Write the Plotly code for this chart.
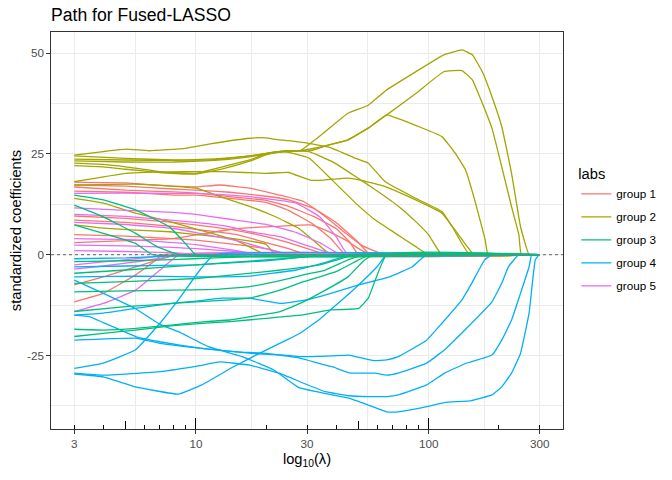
"""
Fused-LASSO coefficient paths, one line per coefficient, coloured by group.
"""

import plotly.graph_objects as go

# ggplot2 default hue palette for five groups
GROUP_COLORS = {
    'group 1': '#F8766D',
    'group 2': '#A3A500',
    'group 3': '#00BF7D',
    'group 4': '#00B0F6',
    'group 5': '#E76BF3',
}

LAMBDA_MAX = 300

# each path: (lambda, standardized coefficient)
GROUP1_PATHS = [
    [(3, 18.0), (5, 17.8), (8, 17.0), (10, 16.8), (12.6, 17.3), (17, 16.5), (22.8, 14.8), (29, 13.2), (36, 9.4), (44, 5.3), (51, 2.5), (58, 1.0), (65, 0)],
    [(3, 17.3), (5, 17.0), (8, 16.3), (10, 16.0), (14, 15.5), (20, 14.5), (25, 13.6), (32, 11.5), (40, 8.0), (50, 3.0), (56, 0)],
    [(3, 16.8), (5, 16.0), (8, 15.6), (10, 15.3), (14, 14.4), (20, 13.5), (25, 12.0), (32, 9.5), (40, 6.5), (46, 3.0), (50, 0)],
    [(3, 15.8), (5, 15.5), (8, 14.8), (10, 14.8), (14, 14.0), (20, 13.0), (25, 11.0), (32, 7.5), (38, 4.0), (44, 0)],
    [(3, 3.0), (5, 3.5), (8, 4.0), (10, 4.9), (15, 6.5), (20, 6.9), (31, 7.4), (36, 6.1), (44, 3.6), (51, 1.2), (57, 0)],
    [(3, 9.6), (5, 9.0), (8, 8.0), (10, 7.4), (15, 6.0), (20, 4.5), (25, 3.0), (32, 1.0), (36, 0)],
    [(3, 8.6), (5, 8.0), (8, 7.0), (10, 6.3), (15, 5.0), (20, 3.0), (25, 1.5), (30, 0)],
    [(3, 5.0), (5, 4.6), (8, 4.0), (10, 3.6), (15, 2.5), (20, 1.5), (26, 0)],
    [(3, -7.5), (4, -5.5), (5.5, -3.0), (7.7, -0.5), (8.5, 0)],
    [(3, -11.7), (4, -9.6), (5.5, -5.0), (6.5, -2.0), (7.2, 0)],
]

GROUP2_PATHS = [
    [(3, 24.5), (5, 23.9), (8, 23.5), (12, 23.6), (17, 24.5), (22, 25.5), (28, 25.8), (35, 30.0), (45, 35.1), (55, 37.1), (66, 40.9), (88, 45.4), (116, 49.6), (139, 50.8), (154, 49.6), (170, 45.4), (187, 39.2), (206, 31.8), (227, 20.2), (248, 7.0), (270, 0)],
    [(3, 23.7), (5, 23.5), (8, 23.4), (12, 23.8), (17, 24.5), (22, 25.5), (28, 25.8), (31, 25.8), (37, 27.2), (45, 28.5), (55, 31.4), (66, 34.7), (88, 40.0), (116, 45.4), (139, 45.7), (154, 43.4), (170, 37.6), (187, 31.4), (206, 21.8), (227, 11.9), (244, 5.0), (250, 0)],
    [(3, 23.3), (5, 23.0), (8, 23.0), (12, 23.4), (17, 24.3), (22, 25.4), (28, 25.8), (37, 27.2), (45, 28.5), (55, 31.4), (66, 34.7), (77, 33.4), (114, 29.3), (130, 25.2), (144, 21.0), (159, 12.8), (175, 3.6), (180, 0)],
    [(3, 22.7), (4, 22.4), (5, 21.8), (7, 20.6), (10, 20.2), (13, 21.8), (17, 23.5), (20, 25.0), (24, 25.8), (30.6, 25.6), (38.5, 23.1), (48.5, 19.4), (59, 16.1), (74.5, 11.9), (88, 8.2), (100, 4.9), (114, 0)],
    [(3, 22.1), (4, 21.8), (5, 21.2), (7, 20.4), (10, 20.0), (13, 21.3), (17, 23.2), (20, 24.8), (24, 25.6), (30.6, 24.0), (38.5, 18.5), (48.5, 12.8), (59, 8.6), (72, 5.3), (88, 2.0), (100, 0)],
    [(3, 24.7), (4, 25.6), (5, 26.2), (6.3, 25.8), (9, 26.4), (11.5, 27.5), (17, 28.9), (20, 29.0), (22, 28.6), (25, 28.3), (30.6, 27.6), (38.5, 26.4), (48.5, 23.9), (55, 22.7), (65, 18.1), (88, 14.0), (114, 10.7), (126, 7.0), (150, 0)],
    [(3, 18.1), (5, 20.2), (9, 20.6), (13, 20.6), (20, 20.2), (25, 20.4), (31, 18.5), (35, 18.5), (45, 19.0), (52, 18.4), (65, 16.9), (82, 14.4), (114, 10.3), (130, 6.1), (157, 0)],
    [(3, 17.3), (5.5, 17.5), (10, 16.5), (12.6, 14.5), (17, 12.0), (21.6, 9.6), (27.7, 6.5), (32, 3.5), (38, 0)],
    [(3, 14.0), (4, 12.8), (5.5, 10.3), (7.7, 8.2), (10.4, 6.1), (14.8, 3.6), (18, 1.2), (20, 0)],
    [(3, 7.4), (4, 6.6), (5.5, 6.1), (7.7, 5.7), (10.4, 4.9), (14.8, 3.9), (20, 2.6), (22, 0)],
]

GROUP3_PATHS = [
    [(3, 14.8), (4, 13.6), (5.5, 11.1), (7.7, 6.9), (9, 2.8), (10, 0)],
    [(3, 12.3), (4, 9.4), (5.5, 5.3), (6.8, 2.0), (8.5, 0)],
    [(3, 7.4), (4, 5.3), (5.5, 2.8), (6.5, 0)],
    [(3, -1.7), (5, -1.5), (8, -1.2), (12, -0.8), (17, -0.5), (22, 0)],
    [(3, -4.6), (5, -3.8), (10, -2.5), (20, -1.3), (30, -0.5), (36, 0)],
    [(3, -7.1), (5, -6.7), (10, -5.9), (20, -4.2), (34, -2.5), (42, -1.0), (48, 0)],
    [(3, -9.2), (5, -9.0), (8, -8.8), (12, -8.6), (17, -7.9), (22, -6.7), (29, -5.0), (36, -3.8), (45, -1.3), (53, 0)],
    [(3, -14.1), (5, -12.9), (8, -12.1), (10, -11.7), (14, -11.2), (17, -10.8), (23, -8.8), (29, -6.7), (40, -4.2), (50, -1.3), (56, 0)],
    [(3, -18.5), (4, -18.7), (5.5, -18.3), (8, -17.4), (11, -16.6), (14, -16.2), (17, -15.4), (23, -14.1), (28, -12.1), (36, -8.8), (45, -5.5), (53, -1.3), (58, 0)],
    [(3, -20.3), (4, -19.5), (5.5, -18.7), (8, -17.6), (11, -17.0), (14, -16.6), (20, -15.8), (28, -15.0), (38, -13.7), (50, -13.3), (55, -10.8), (66, 0)],
]

GROUP4_PATHS = [
    [(3, -6.3), (4, -9.6), (5.5, -13.4), (7, -17.3), (8.4, -19.1), (11.3, -22.8), (15.8, -25.3), (21.6, -28.6), (27.7, -33.0), (33, -34.0), (38.5, -34.8), (45.4, -35.6), (55, -37.3), (66, -39.0), (74, -39.0), (98, -37.7), (117, -36.7), (153, -36.2), (187, -34.8), (206, -32.8), (227, -29.4), (248, -24.5), (270, -14.5), (287, -1.3), (298, 0)],
    [(3, -5.5), (5.5, -5.3), (10, -5.5), (17, -5.3), (27, -3.8), (35, -2.1), (47, 0)],
    [(3, -28.2), (4, -26.9), (5.5, -23.6), (7, -17.0), (8.4, -11.2), (10.4, -3.8), (12, 0)],
    [(3, -15.0), (3.5, -15.4), (5.5, -20.3), (7, -21.6), (10.4, -23.2), (15, -24.1), (20, -24.5), (27.7, -25.6), (34, -27.0), (38.5, -27.8), (45.4, -29.3), (59, -29.4), (66, -29.9), (74, -29.4), (98, -26.9), (117, -23.6), (143, -18.7), (187, -11.7), (206, -7.1), (220, -3.0), (244, 0)],
    [(3, -21.2), (5.5, -20.7), (7, -22.0), (10.4, -23.2), (17.4, -24.5), (24, -24.9), (28, -25.3), (38.5, -25.1), (45.4, -24.9), (58, -26.3), (66, -26.1), (74, -25.3), (98, -21.2), (114, -17.0), (139, -11.2), (153, -7.1), (174, -1.3), (187, 0)],
    [(3, -29.4), (4, -29.9), (7, -29.0), (10.4, -27.5), (12.6, -26.6), (17, -27.4), (22.8, -29.4), (29, -31.9), (36, -34.0), (45.4, -35.0), (55, -35.2), (66, -35.2), (74, -34.8), (98, -32.3), (117, -29.4), (144, -27.0), (187, -24.9), (206, -21.2), (227, -16.2), (248, -9.6), (270, -3.0), (277, 0)],
    [(3, -29.6), (4, -30.3), (5.5, -32.8), (8.4, -34.6), (10.6, -32.3), (14.5, -27.8), (18, -25.0), (22, -22.5), (28, -19.5), (34, -16.0), (40, -12.5), (50, -7.5), (60, -3.0), (66, 0)],
    [(3, -15.0), (4, -14.5), (6, -13.0), (8, -12.0), (10, -11.5), (13, -10.8), (17, -10.8), (23, -12.1), (30, -11.2), (38, -9.6), (50, -7.5), (68, -5.5), (85, -3.0), (98, 0)],
    [(3, -3.0), (5, -2.8), (10, -2.5), (20, -1.5), (30, -0.5), (35, 0)],
    [(3, -1.0), (5, -0.8), (8, -0.3), (10, 0)],
]

GROUP5_PATHS = [
    [(3, 15.2), (5, 15.3), (8, 15.2), (10, 15.2), (14, 14.8), (17, 14.4), (22, 13.6), (27, 12.8), (34, 9.4), (40, 4.5), (45, 0)],
    [(3, 11.6), (5, 11.0), (8, 10.5), (10, 10.0), (14, 8.8), (20, 7.5), (27, 5.5), (34, 3.0), (42, 0)],
    [(3, 10.0), (5, 9.5), (8, 8.5), (10, 8.0), (14, 6.9), (17, 5.7), (23, 4.5), (31, 2.0), (40, 0)],
    [(3, 8.0), (5, 7.5), (8, 6.5), (10, 5.5), (15, 3.5), (20, 1.5), (25, 0)],
    [(3, 4.0), (5, 3.8), (8, 3.0), (10, 2.5), (15, 1.0), (18, 0)],
    [(3, 1.0), (5, 0.8), (8, 0.5), (10, 0)],
    [(3, -2.5), (4, -1.8), (6, -0.8), (8, 0)],
    [(3, -3.6), (4, -2.8), (6, -1.5), (8, -0.3), (9, 0)],
    [(3, -14.1), (4, -12.1), (5.5, -8.8), (7, -3.8), (8.5, 0)],
    [(3, 2.4), (5, 2.2), (8, 1.8), (10, 1.5), (15, 0.8), (20, 0)],
]

# drawing order (later groups end up on top)
DRAW_ORDER = [
    ('group 1', GROUP1_PATHS),
    ('group 2', GROUP2_PATHS),
    ('group 5', GROUP5_PATHS),
    ('group 4', GROUP4_PATHS),
    ('group 3', GROUP3_PATHS),
]

X_TICKS = [3, 10, 30, 100, 300]
X_MINOR_GRID = [5.477, 17.32, 54.77, 173.2]
Y_TICKS = [-25, 0, 25, 50]
Y_TICK_LABELS = ['-25', '0', '25', '50']
Y_MINOR_GRID = [-37.5, -12.5, 12.5, 37.5]

# annotation_logticks style marks along the bottom
LOGTICK_LONG = [10, 100]
LOGTICK_MID = [5, 50]
LOGTICK_SHORT = [3, 4, 6, 7, 8, 9, 20, 30, 40, 60, 70, 80, 90, 200, 300]

FONT = 'Liberation Sans, Arial, sans-serif'
GRID = '#EBEBEB'
BORDER = '#333333'

fig = go.Figure()

for group, paths in DRAW_ORDER:
    rank = int(group.split()[-1])
    for i, path in enumerate(paths):
        lam = [p[0] for p in path]
        coef = [p[1] for p in path]
        # once a coefficient is shrunk to zero it stays there
        if lam[-1] < LAMBDA_MAX:
            lam.append(LAMBDA_MAX)
            coef.append(0)
        fig.add_trace(go.Scatter(
            x=lam, y=coef, mode='lines',
            line=dict(color=GROUP_COLORS[group], width=1.3, shape='spline', smoothing=0.3),
            name=group, legendgroup=group, legendrank=rank,
            showlegend=(i == 0),
            hoverinfo='skip',
        ))

# empty traces so the overlay axes carrying the log ticks get drawn
fig.add_trace(go.Scatter(x=[], y=[], xaxis='x2', showlegend=False))
fig.add_trace(go.Scatter(x=[], y=[], xaxis='x3', showlegend=False))

fig.add_hline(y=0, line=dict(color='#7F7F7F', dash='dot', width=1.2))

x_range = [0.3771, 2.5771]
logtick_axis = dict(
    type='log', range=x_range, overlaying='x', anchor='y', side='bottom',
    showgrid=False, showline=False, zeroline=False, showticklabels=False,
    ticks='inside', tickcolor='black', tickwidth=1, automargin=False,
)

# the page body adds an 8px offset, so the figure is 8px smaller on each axis
fig.update_layout(
    width=664, height=472,
    margin=dict(l=43, r=109, t=24, b=51, autoexpand=False),
    paper_bgcolor='white', plot_bgcolor='white',
    font=dict(family=FONT, color='black'),
    title=dict(
        text='Path for Fused-LASSO', x=0, xref='paper', xanchor='left',
        y=0.999, yref='container', yanchor='top',
        font=dict(size=17.6, color='black'),
    ),
    xaxis=dict(
        type='log', range=x_range, automargin=False,
        tickmode='array', tickvals=X_TICKS, ticktext=[str(v) for v in X_TICKS],
        ticks='outside', ticklen=3.7, tickwidth=1, tickcolor=BORDER,
        tickfont=dict(size=11.7, color='#4D4D4D'),
        showgrid=True, gridcolor=GRID, gridwidth=1.07,
        minor=dict(tickmode='array', tickvals=X_MINOR_GRID, showgrid=True,
                   gridcolor=GRID, gridwidth=0.55, ticks=''),
        showline=True, mirror=True, linecolor=BORDER, linewidth=1,
        zeroline=False,
        title=dict(text='log<sub>10</sub>(λ)', font=dict(size=14.7), standoff=4),
    ),
    xaxis2=dict(logtick_axis, tickmode='array', tickvals=LOGTICK_LONG, ticklen=11.3,
                minor=dict(tickmode='array', tickvals=LOGTICK_SHORT, ticks='inside',
                           ticklen=3.8, tickcolor='black', tickwidth=1, showgrid=False)),
    xaxis3=dict(logtick_axis, tickmode='array', tickvals=LOGTICK_MID, ticklen=7.6),
    yaxis=dict(
        range=[-43.25, 55.26], automargin=False,
        tickmode='array', tickvals=Y_TICKS, ticktext=Y_TICK_LABELS,
        ticks='outside', ticklen=3.7, tickwidth=1, tickcolor=BORDER,
        tickfont=dict(size=11.7, color='#4D4D4D'),
        showgrid=True, gridcolor=GRID, gridwidth=1.07,
        minor=dict(tickmode='array', tickvals=Y_MINOR_GRID, showgrid=True,
                   gridcolor=GRID, gridwidth=0.55, ticks=''),
        showline=True, mirror=True, linecolor=BORDER, linewidth=1,
        zeroline=False,
        title=dict(text='standardized coefficients', font=dict(size=14.7), standoff=7),
    ),
    legend=dict(
        title=dict(text='labs', font=dict(size=14.7)),
        font=dict(size=11.7, color='black'),
        x=1.026, xanchor='left', y=0.677, yanchor='top',
        tracegroupgap=4, bgcolor='rgba(0,0,0,0)',
    ),
    showlegend=True,
)

fig.write_html("out.html")
